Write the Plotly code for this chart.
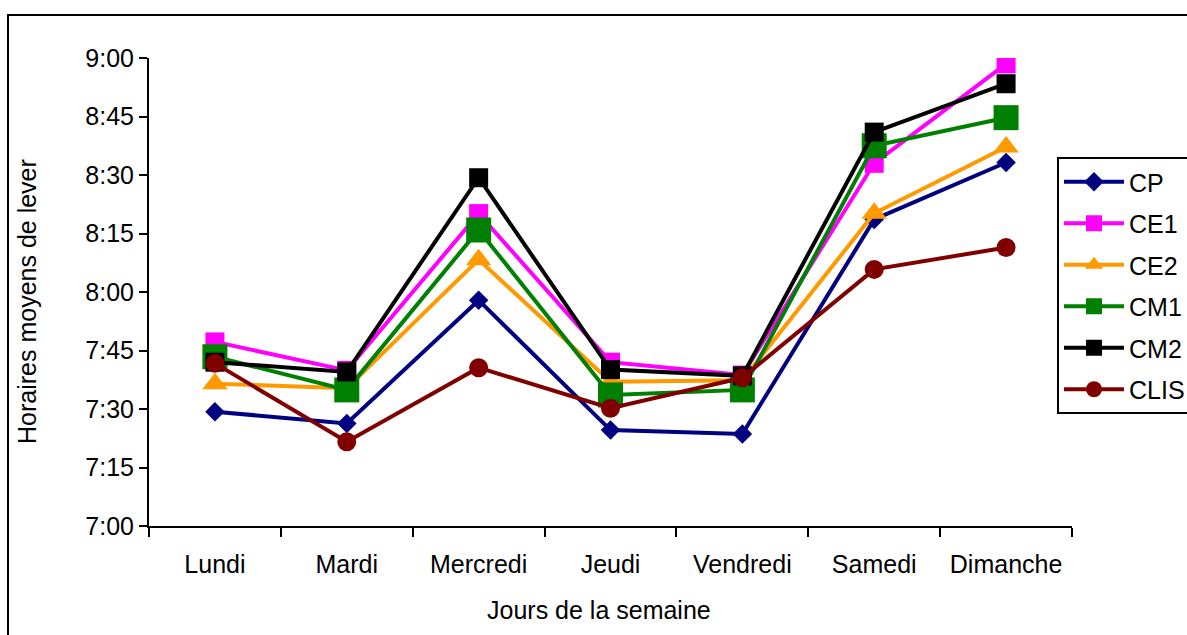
import plotly.graph_objects as go

# Categories (days of the week)
jours = ["Lundi", "Mardi", "Mercredi", "Jeudi", "Vendredi", "Samedi", "Dimanche"]

# Mean wake-up time, in minutes after 7:00
cp   = [29.3, 26.3, 57.9, 24.6, 23.6, 78.6, 93.2]
ce1  = [47.2, 39.9, 80.1, 42.0, 38.7, 93.0, 118.5]
ce2  = [36.5, 35.3, 68.3, 37.0, 37.4, 80.2, 97.2]
cm1  = [43.4, 34.9, 75.9, 33.6, 34.9, 97.5, 104.7]
cm2  = [42.0, 39.5, 89.3, 40.1, 38.5, 101.0, 113.4]
clis = [41.7, 21.6, 40.6, 30.2, 38.0, 65.8, 71.4]

# Y tick labels
tick_minutes = [0, 15, 30, 45, 60, 75, 90, 105, 120]
tick_labels = ["7:00", "7:15", "7:30", "7:45", "8:00", "8:15", "8:30", "8:45", "9:00"]

FONT = "Liberation Sans, Arial, sans-serif"

series = [
    ("CP", cp, "#000080", "diamond", 15),
    ("CE1", ce1, "#FF00FF", "square", 19),
    ("CE2", ce2, "#FF9900", "triangle-up", 22),
    ("CM1", cm1, "#008000", "square", 25),
    ("CM2", cm2, "#000000", "square", 19),
    ("CLIS", clis, "#800000", "circle", 19),
]

fig = go.Figure()
for name, vals, color, sym, size in series:
    fig.add_trace(go.Scatter(
        x=jours, y=vals, name=name, mode="lines+markers",
        legendgroup=name,
        line=dict(color=color, width=4),
        marker=dict(symbol=sym, size=size, color=color, line=dict(width=0)),
    ))

W, H = 1187, 635
L, R, T, B = 149, 115, 58, 109
pw, ph = W - L - R, H - T - B

def px(x):
    return (x - L) / pw

def py(y):
    return (H - B - y) / ph

fig.update_layout(
    width=W, height=H,
    margin=dict(l=L, r=R, t=T, b=B, autoexpand=False),
    paper_bgcolor="white", plot_bgcolor="white",
    font=dict(family=FONT, size=25, color="black"),
    showlegend=True,
    legend=dict(
        x=px(1057), y=py(157), xanchor="left", yanchor="top",
        bordercolor="black", borderwidth=2, bgcolor="white",
        font=dict(family=FONT, size=25, color="black"),
        tracegroupgap=6, itemwidth=60,
    ),
    xaxis=dict(
        type="category", range=[-0.5, 6.5],
        showline=True, linecolor="black", linewidth=2,
        ticks="outside", tickson="boundaries", ticklen=9, tickwidth=2, tickcolor="black",
        showgrid=False, zeroline=False,
        tickfont=dict(family=FONT, size=25, color="black"),
        ticklabelstandoff=15,
    ),
    yaxis=dict(
        range=[0, 120], tickvals=tick_minutes, ticktext=tick_labels,
        showline=True, linecolor="black", linewidth=2,
        ticks="outside", ticklen=8, tickwidth=2, tickcolor="black",
        showgrid=False, zeroline=False,
        tickfont=dict(family=FONT, size=25, color="black"),
    ),
    shapes=[dict(
        type="rect", xref="paper", yref="paper",
        x0=px(8), x1=px(1195), y0=py(15), y1=py(645),
        line=dict(color="black", width=2), fillcolor="rgba(0,0,0,0)", layer="below",
    )],
    annotations=[
        dict(text="Jours de la semaine", xref="paper", yref="paper",
             x=px(599), y=py(610), xanchor="center", yanchor="middle",
             showarrow=False, font=dict(family=FONT, size=25, color="black")),
        dict(text="Horaires moyens de lever", xref="paper", yref="paper",
             x=px(27), y=py(302), xanchor="center", yanchor="middle", textangle=-90,
             showarrow=False, font=dict(family=FONT, size=25, color="black")),
    ],
)

fig.write_html("out.html")
